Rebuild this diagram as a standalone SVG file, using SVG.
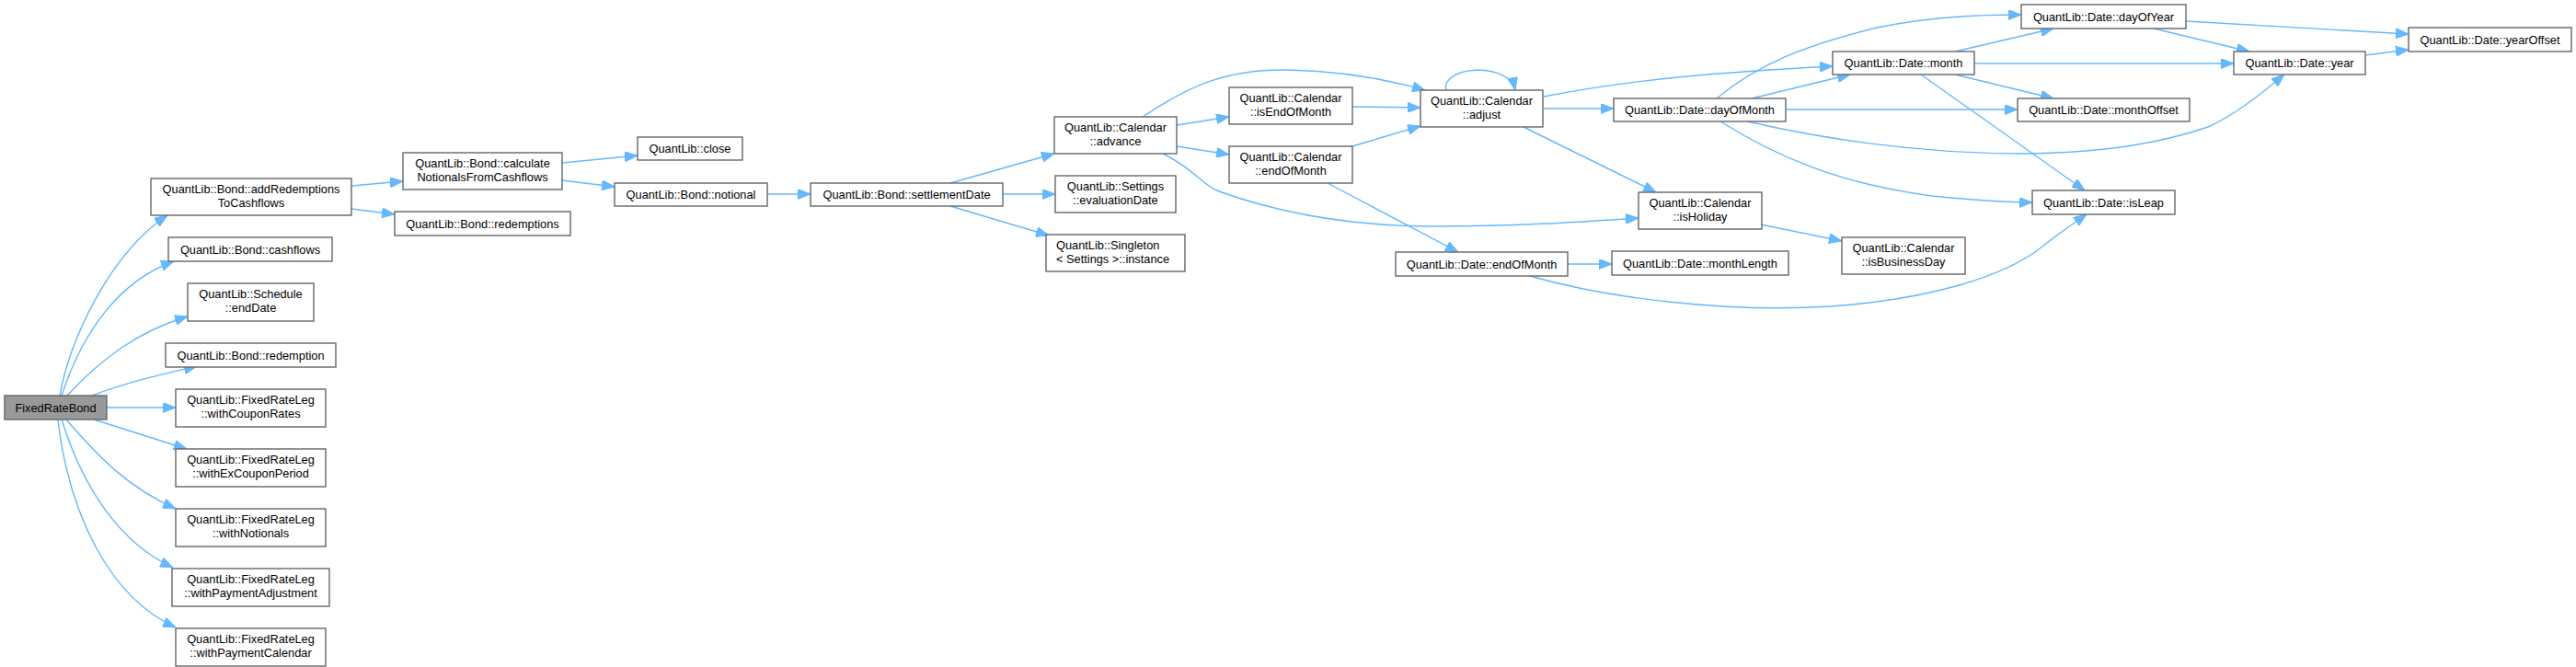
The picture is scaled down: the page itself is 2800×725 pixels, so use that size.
<svg xmlns="http://www.w3.org/2000/svg" width="2800" height="725" viewBox="0 0 2800 725">
<style>
.n rect{fill:#ffffff;stroke:#666666;stroke-width:1.4}
.n.main rect{fill:#999999}
.n text{font-family:"Liberation Sans",Arial,Helvetica,sans-serif;font-size:12.8px;fill:#000000;text-anchor:middle}
.n text.l{text-anchor:start}
#edges path{fill:none;stroke:#63b8ff;stroke-width:1.4;marker-end:url(#ah)}
</style>
<defs>
<marker id="ah" markerUnits="userSpaceOnUse" markerWidth="14" markerHeight="11" refX="14" refY="5.5" orient="auto">
<path d="M0,0 L14,5.5 L0,11 z" fill="#63b8ff" stroke="#63b8ff" stroke-width="1"/>
</marker>
</defs>
<rect width="2800" height="725" fill="#ffffff"/>
<g id="edges">
<path d="M65,430 C75,370 120,275 182,234"/>
<path d="M67,430 C90,360 130,305 189,284"/>
<path d="M73,430 C110,390 150,360 204,344"/>
<path d="M100,430 C140,415 175,407 214,398"/>
<path d="M116,443 L191,443"/>
<path d="M102,456 L203,488"/>
<path d="M72,456 C110,500 140,530 191,553"/>
<path d="M67,456 C90,530 130,590 188,617"/>
<path d="M63,456 C75,560 120,650 191,682"/>
<path d="M382,202 L438,197"/>
<path d="M382,227 L429,233"/>
<path d="M611,177 L693,169"/>
<path d="M611,196 L668,203"/>
<path d="M834,211 L881,211"/>
<path d="M1033,199 L1146,167"/>
<path d="M1090,211 L1147,211"/>
<path d="M1033,224 L1140,256"/>
<path d="M1279,136 L1336,127"/>
<path d="M1279,159 L1336,168"/>
<path d="M1242,127 C1290,95 1330,75 1400,76 C1460,77 1510,87 1549,98"/>
<path d="M1264,167 C1300,185 1305,200 1325,208 C1400,235 1480,246 1560,246 C1650,246 1720,241 1781,237"/>
<path d="M1470,116 L1544,117"/>
<path d="M1470,159 L1544,137"/>
<path d="M1443,199 L1585,274"/>
<path d="M1572,98 C1565,72 1640,66 1647,98"/>
<path d="M1678,105 C1780,85 1880,78 1992,72"/>
<path d="M1678,118 L1754,118"/>
<path d="M1656,138 L1800,209"/>
<path d="M1866,107 C1910,70 1960,50 2040,30 C2100,18 2150,16 2197,16"/>
<path d="M1904,107 L2011,81"/>
<path d="M1941,119 L2193,119"/>
<path d="M1899,132 C2000,155 2100,167 2200,167 C2290,166 2350,155 2400,138 C2430,125 2460,100 2483,81"/>
<path d="M1870,132 C1930,170 2000,200 2100,213 C2150,218 2180,220 2209,220"/>
<path d="M2125,56 L2232,31"/>
<path d="M2146,69 L2428,69"/>
<path d="M2125,81 L2232,107"/>
<path d="M2088,81 L2266,207"/>
<path d="M2376,23 L2618,37"/>
<path d="M2341,31 L2445,56"/>
<path d="M2571,60 L2618,54"/>
<path d="M1914,244 L2002,262"/>
<path d="M1704,287 L1752,287"/>
<path d="M1663,300 C1750,325 1880,340 1990,333 C2100,325 2180,300 2220,268 C2240,252 2255,242 2268,233"/>
</g>
<g id="n0" class="n main"><rect x="5" y="430" width="111" height="26"/><text x="60.5" y="447.5">FixedRateBond</text></g>
<g id="n1" class="n"><rect x="164" y="194" width="218" height="40"/><text x="273" y="210">QuantLib::Bond::addRedemptions</text><text x="273" y="225">ToCashflows</text></g>
<g id="n2" class="n"><rect x="183" y="258" width="178" height="26"/><text x="272" y="275.5">QuantLib::Bond::cashflows</text></g>
<g id="n3" class="n"><rect x="204" y="308" width="137" height="41"/><text x="272.5" y="324">QuantLib::Schedule</text><text x="272.5" y="339">::endDate</text></g>
<g id="n4" class="n"><rect x="180" y="373" width="185" height="26"/><text x="272.5" y="390.5">QuantLib::Bond::redemption</text></g>
<g id="n5" class="n"><rect x="191" y="423" width="163" height="41"/><text x="272.5" y="439">QuantLib::FixedRateLeg</text><text x="272.5" y="454">::withCouponRates</text></g>
<g id="n6" class="n"><rect x="191" y="488" width="163" height="41"/><text x="272.5" y="504">QuantLib::FixedRateLeg</text><text x="272.5" y="519">::withExCouponPeriod</text></g>
<g id="n7" class="n"><rect x="191" y="553" width="163" height="41"/><text x="272.5" y="569">QuantLib::FixedRateLeg</text><text x="272.5" y="584">::withNotionals</text></g>
<g id="n8" class="n"><rect x="187" y="618" width="171" height="41"/><text x="272.5" y="634">QuantLib::FixedRateLeg</text><text x="272.5" y="649">::withPaymentAdjustment</text></g>
<g id="n9" class="n"><rect x="191" y="683" width="163" height="41"/><text x="272.5" y="699">QuantLib::FixedRateLeg</text><text x="272.5" y="714">::withPaymentCalendar</text></g>
<g id="n10" class="n"><rect x="438" y="166" width="173" height="40"/><text x="524.5" y="182">QuantLib::Bond::calculate</text><text x="524.5" y="197">NotionalsFromCashflows</text></g>
<g id="n11" class="n"><rect x="429" y="230" width="191" height="26"/><text x="524.5" y="247.5">QuantLib::Bond::redemptions</text></g>
<g id="n12" class="n"><rect x="693" y="149" width="114" height="25"/><text x="750" y="166">QuantLib::close</text></g>
<g id="n13" class="n"><rect x="668" y="199" width="166" height="25"/><text x="751" y="216">QuantLib::Bond::notional</text></g>
<g id="n14" class="n"><rect x="881" y="199" width="209" height="25"/><text x="985.5" y="216">QuantLib::Bond::settlementDate</text></g>
<g id="n15" class="n"><rect x="1146" y="127" width="133" height="40"/><text x="1212.5" y="143">QuantLib::Calendar</text><text x="1212.5" y="158">::advance</text></g>
<g id="n16" class="n"><rect x="1147" y="191" width="131" height="40"/><text x="1212.5" y="207">QuantLib::Settings</text><text x="1212.5" y="222">::evaluationDate</text></g>
<g id="n17" class="n"><rect x="1137" y="255" width="151" height="40"/><text class="l" x="1148" y="271">QuantLib::Singleton</text><text class="l" x="1148" y="286">&lt; Settings &gt;::instance</text></g>
<g id="n18" class="n"><rect x="1336" y="95" width="134" height="40"/><text x="1403" y="111">QuantLib::Calendar</text><text x="1403" y="126">::isEndOfMonth</text></g>
<g id="n19" class="n"><rect x="1336" y="159" width="134" height="40"/><text x="1403" y="175">QuantLib::Calendar</text><text x="1403" y="190">::endOfMonth</text></g>
<g id="n20" class="n"><rect x="1544" y="98" width="133" height="40"/><text x="1610.5" y="114">QuantLib::Calendar</text><text x="1610.5" y="129">::adjust</text></g>
<g id="n21" class="n"><rect x="1781" y="209" width="134" height="40"/><text x="1848" y="225">QuantLib::Calendar</text><text x="1848" y="240">::isHoliday</text></g>
<g id="n22" class="n"><rect x="1517" y="274" width="187" height="26"/><text x="1610.5" y="291.5">QuantLib::Date::endOfMonth</text></g>
<g id="n23" class="n"><rect x="1754" y="107" width="187" height="25"/><text x="1847.5" y="124">QuantLib::Date::dayOfMonth</text></g>
<g id="n24" class="n"><rect x="1992" y="56" width="154" height="25"/><text x="2069" y="73">QuantLib::Date::month</text></g>
<g id="n25" class="n"><rect x="2002" y="258" width="134" height="40"/><text x="2069" y="274">QuantLib::Calendar</text><text x="2069" y="289">::isBusinessDay</text></g>
<g id="n26" class="n"><rect x="1752" y="273" width="192" height="26"/><text x="1848" y="290.5">QuantLib::Date::monthLength</text></g>
<g id="n27" class="n"><rect x="2197" y="5" width="179" height="26"/><text x="2286.5" y="22.5">QuantLib::Date::dayOfYear</text></g>
<g id="n28" class="n"><rect x="2193" y="107" width="187" height="25"/><text x="2286.5" y="124">QuantLib::Date::monthOffset</text></g>
<g id="n29" class="n"><rect x="2209" y="207" width="155" height="26"/><text x="2286.5" y="224.5">QuantLib::Date::isLeap</text></g>
<g id="n30" class="n"><rect x="2428" y="56" width="143" height="25"/><text x="2499.5" y="73">QuantLib::Date::year</text></g>
<g id="n31" class="n"><rect x="2618" y="30" width="177" height="26"/><text x="2706.5" y="47.5">QuantLib::Date::yearOffset</text></g>
</svg>
